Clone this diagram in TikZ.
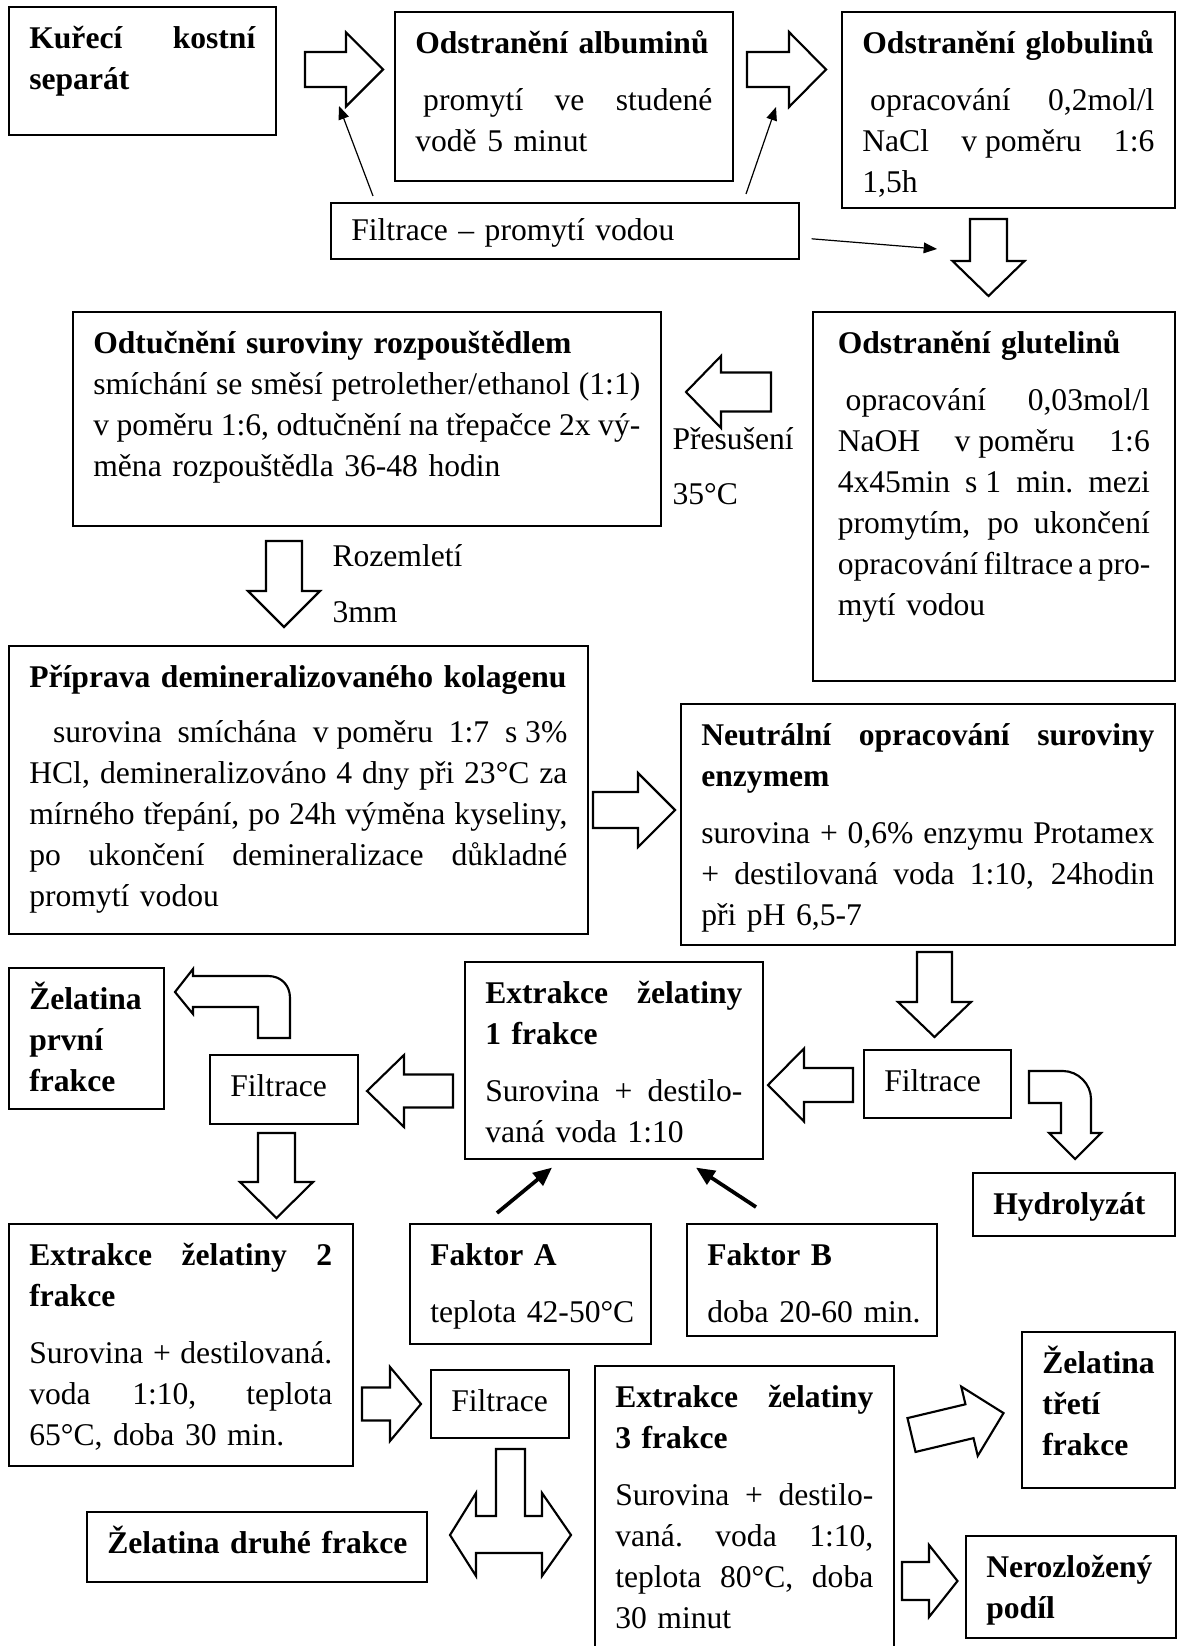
\documentclass[tikz,border=0pt]{standalone}
\usepackage{fontspec}
\setmainfont{Liberation Serif}
\usetikzlibrary{arrows.meta}
\newcommand{\jl}[1]{\makebox[\linewidth][s]{\spaceskip=.25em plus 1fil minus .08em\xspaceskip=.25em plus 1fil minus .08em\relax #1}}
\newcommand{\nbs}{\hspace{.25em}}
\newcommand{\blockarrow}[7]{\draw[barrow,shift={(#1,#2)},rotate=#3] (0,-#5) -- ({#4-#6},-#5) -- ({#4-#6},-#7) -- (#4,0) -- ({#4-#6},#7) -- ({#4-#6},#5) -- (0,#5) -- cycle;}
\begin{document}
\begin{tikzpicture}[x=0.375pt,y=-0.375pt,
  every node/.style={font=\fontsize{11.85pt}{15.375pt}\selectfont},
  box/.style={draw,line width=0.6pt,anchor=north west,inner xsep=7.7pt,inner ysep=8.06pt,text height=7.5pt,align=left},
  lbl/.style={anchor=base west,inner sep=0pt},
  barrow/.style={draw,line width=0.8pt,fill=white,line join=miter},
  thinarr/.style={line width=0.45pt,-{Triangle[length=5pt,width=4pt]}},
  thickarr/.style={line width=1.4pt,-{Triangle[length=7pt,width=6pt]}}]
\useasboundingbox (0,0) rectangle (1176,1646);

\node[box,text width=84.75pt,text depth=24.4pt] (kurec) at (8,6)
  {\textbf{\jl{Kuřecí kostní}}\\ \textbf{separát}};
\node[box,text width=111.4pt,text depth=39.75pt] (albumin) at (394,11)
  {\mbox{\textbf{Odstranění albuminů}}\\[6pt] \jl{\hspace*{.25em}promytí ve studené}\\ vodě 5 minut};
\node[box,text width=109.5pt,text depth=49.9pt] (globulin) at (841,11)
  {\mbox{\textbf{Odstranění globulinů}}\\[6pt] \jl{\hspace*{.25em}opracování 0,2mol/l}\\ \jl{NaCl v\nbs poměru 1:6}\\ 1,5h};
\node[box,text width=160.1pt,inner ysep=6.75pt,text depth=0pt] (filtr) at (330,202)
  {Filtrace – promytí vodou};
\node[box,text width=117pt,inner xsep=9.375pt,text depth=114.75pt] (glutelin) at (812,311)
  {\textbf{Odstranění glutelinů}\\[6pt] \jl{\hspace*{.25em}opracování 0,03mol/l}\\ \jl{NaOH v\nbs poměru 1:6}\\ \jl{4x45min s\nbs 1 min. mezi}\\ \jl{promytím, po ukončení}\\ \jl{opracování filtrace a pro-}\\ mytí vodou};
\node[box,text width=205.1pt,text depth=56.6pt] (odtuc) at (72,311)
  {\textbf{Odtučnění suroviny rozpouštědlem}\\ \jl{smíchání se směsí petrolether/ethanol (1:1)}\\ \jl{v poměru 1:6, odtučnění na třepačce 2x vý-}\\ měna rozpouštědla 36-48 hodin};
\node[lbl] (presus) at (672,450) {Přesušení};
\node[lbl] (presusT) at (672,505) {35°C};
\node[lbl] (rozem) at (332,567) {Rozemletí};
\node[lbl] (rozemT) at (332,622) {3mm};
\node[box,text width=201.75pt,text depth=84.4pt] (priprava) at (8,645)
  {\mbox{\textbf{Příprava demineralizovaného kolagenu}}\\[5.3pt] \jl{\hspace*{.75em}surovina smíchána v\nbs poměru 1:7 s\nbs 3\%}\\ \jl{HCl, demineralizováno 4 dny při 23°C za}\\ \jl{mírného třepání, po 24h výměna kyseliny,}\\ \jl{po ukončení demineralizace důkladné}\\ promytí vodou};
\node[box,text width=169.9pt,text depth=66.75pt] (neutral) at (680,703)
  {\textbf{\jl{Neutrální opracování suroviny}}\\ \textbf{enzymem}\\[6pt] \jl{surovina + 0,6\% enzymu Protamex}\\ \jl{+ destilovaná voda 1:10, 24hodin}\\ při pH 6,5-7};
\node[box,text width=42.75pt,text depth=29.25pt] (zelprvni) at (8,967)
  {\mbox{\textbf{Želatina}}\\ \textbf{první}\\ \textbf{frakce}};
\node[box,text width=96.4pt,text depth=50.25pt] (extr1) at (464,961)
  {\textbf{\jl{Extrakce želatiny}}\\ \textbf{1 frakce}\\[6pt] \jl{Surovina + destilo-}\\ vaná voda 1:10};
\node[box,text width=40.1pt,text depth=2.25pt] (filtrL) at (209,1054) {\mbox{Filtrace}};
\node[box,text width=39.75pt,text depth=1.9pt] (filtrR) at (863,1049) {\mbox{Filtrace}};
\node[box,text width=60.4pt,text depth=0pt] (hydro) at (972,1172) {\mbox{\textbf{Hydrolyzát}}};
\node[box,text width=75pt,text depth=21.4pt] (faktA) at (409,1223)
  {\textbf{Faktor A}\\[6pt] \mbox{teplota 42-50°C}};
\node[box,text width=78.4pt,text depth=18.4pt] (faktB) at (686,1223)
  {\textbf{Faktor B}\\[6pt] \mbox{doba 20-60 min.}};
\node[box,text width=113.6pt,text depth=67.1pt] (extr2) at (8,1223)
  {\textbf{\jl{Extrakce želatiny 2}}\\ \textbf{frakce}\\[6pt] \jl{Surovina + destilovaná.}\\ \jl{voda 1:10, teplota}\\ 65°C, doba 30 min.};
\node[box,text width=36.4pt,text depth=1.9pt] (filtrM) at (430,1369) {\mbox{Filtrace}};
\node[box,text width=112.1pt,text depth=2.6pt] (zeldruhe) at (86,1511) {\mbox{\textbf{Želatina druhé frakce}}};
\node[box,text width=96.75pt,text depth=88.9pt] (extr3) at (594,1365)
  {\textbf{\jl{Extrakce želatiny}}\\ \textbf{3 frakce}\\[6pt] \jl{Surovina + destilo-}\\ \jl{vaná. voda 1:10,}\\ \jl{teplota 80°C, doba}\\ 30 minut};
\node[box,text width=42pt,text depth=34.9pt] (zeltreti) at (1021,1331)
  {\mbox{\textbf{Želatina}}\\ \textbf{třetí}\\ \textbf{frakce}};
\node[box,text width=63.5pt,text depth=14.6pt] (neroz) at (965,1535)
  {\mbox{\textbf{Nerozložený}}\\ \textbf{podíl}};

\blockarrow{305}{69.5}{0}{78}{17.5}{37}{37}
\blockarrow{747}{69.5}{0}{79}{17.5}{37}{37.5}
\blockarrow{988.5}{219}{-90}{77}{18.5}{35}{36}
\blockarrow{771}{392}{180}{85}{19.5}{35}{36}
\blockarrow{284}{541}{-90}{86}{18}{36}{36}
\blockarrow{593}{810}{0}{82}{18}{37}{37}
\blockarrow{934.5}{952}{-90}{85}{17.5}{35}{36.5}
\blockarrow{853}{1085}{180}{85}{17}{36}{36.5}
\blockarrow{453}{1091}{180}{86}{16.5}{37}{36}
\blockarrow{276.5}{1133}{-90}{85}{18.5}{36}{36.5}
\blockarrow{362}{1404}{0}{59}{16.5}{31}{37}
\blockarrow{902}{1581}{0}{55.5}{19}{28.5}{36}
\blockarrow{911.5}{1435}{13.4}{94.6}{17.4}{35}{35.6}

\draw[barrow] (258,1038) -- (258,1007) -- (193,1007) -- (193,1014) -- (175,992) -- (193,969) -- (193,976)
  -- (268,976) .. controls (281,976) and (290,985) .. (290,998) -- (290,1038) -- cycle;
\draw[barrow] (1029,1071) -- (1063,1071) .. controls (1078,1071) and (1091,1084) .. (1091,1099)
  -- (1091,1133) -- (1101,1133) -- (1075,1159) -- (1049,1133) -- (1061,1133) -- (1061,1103) -- (1029,1103) -- cycle;
\draw[barrow] (496,1449) -- (525,1449) -- (525,1516) -- (542,1516) -- (542,1493) -- (571,1535) -- (542,1576)
  -- (542,1553) -- (476,1553) -- (476,1576) -- (450,1535) -- (476,1493) -- (476,1516) -- (496,1516) -- cycle;

\coordinate (tipA) at (339,106);
\coordinate (tipB) at (776,107);
\coordinate (tipC) at (937,249);
\draw[thinarr] ([shift={(43,-6)}]filtr.north west) -- (tipA);
\draw[thinarr] ([shift={(416,-8)}]filtr.north west) -- (tipB);
\draw[thinarr] ([shift={(12,8)}]filtr.east) -- (tipC);

\coordinate (inA) at ([shift={(88,8)}]extr1.south west);
\coordinate (inB) at ([shift={(232,8)}]extr1.south west);
\draw[thickarr] ([shift={(88,-10)}]faktA.north west) -- (inA);
\draw[thickarr] ([shift={(70,-16)}]faktB.north west) -- (inB);
\end{tikzpicture}
\end{document}
